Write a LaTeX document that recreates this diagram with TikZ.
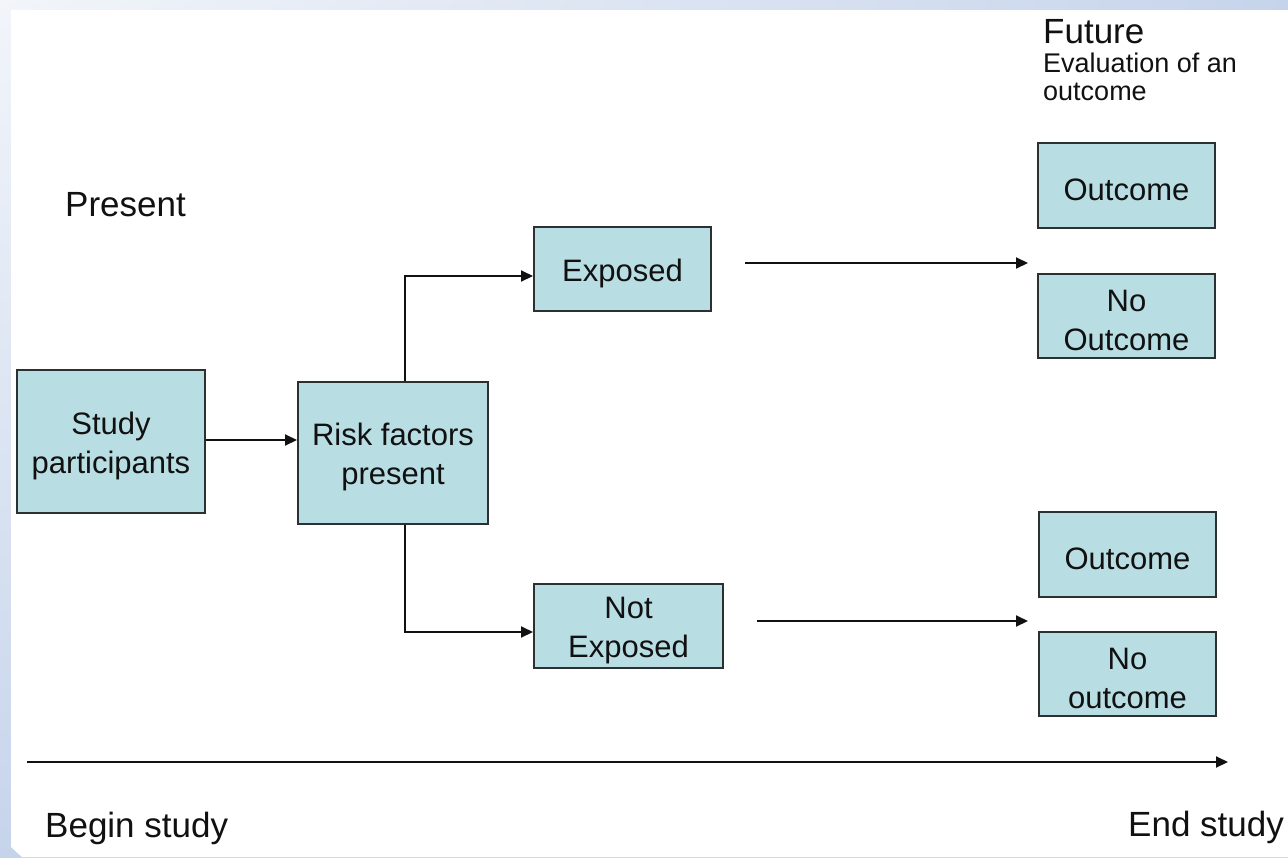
\documentclass[tikz,border=0pt]{standalone}
\usepackage{fontspec}
\setmainfont{Liberation Sans}
\usetikzlibrary{arrows.meta,shadings}
\definecolor{boxfill}{HTML}{B8DDE3}
\definecolor{boxline}{HTML}{2B3032}
\definecolor{bgA}{HTML}{F2F5FA}
\definecolor{bgB}{HTML}{C6D4EB}
\definecolor{ink}{HTML}{111111}
\newcommand\boxstrut{\rule{0pt}{31pt}}
\tikzset{
  stepbox/.style={draw=boxline, fill=boxfill, line width=2pt, inner sep=0pt,
    align=center, text=ink, font=\fontsize{31}{39}\selectfont},
  arr/.style={draw=ink, line width=2pt, -{Triangle[length=12pt,width=11pt]}},
  lbl/.style={inner sep=0pt, text=ink, font=\fontsize{35}{40}\selectfont},
  sublbl/.style={inner sep=0pt, text=ink, font=\fontsize{27}{28}\selectfont},
}
\begin{document}
\begin{tikzpicture}[x=1pt, y=-1pt]
\useasboundingbox (0,0) rectangle (1288,857);
% background
\shade[upper left=bgA, upper right=bgB, lower left=bgB, lower right=bgB] (0,0) rectangle (1288,857);
\fill[white] (11,10) -- (1288,10) -- (1288,857) -- (22,857) -- (11,847) -- cycle;

% boxes
\node[stepbox, minimum width=188pt, minimum height=143pt] (study) at (111,441.5) {\boxstrut Study\\participants};
\node[stepbox, minimum width=190pt, minimum height=142pt] (risk) at (393,453) {\boxstrut Risk factors\\present};
\node[stepbox, minimum width=177pt, minimum height=84pt] (exposed) at (622.5,269) {\boxstrut Exposed};
\node[stepbox, minimum width=189pt, minimum height=84pt] (notexp) at (628.5,626) {\boxstrut Not\\Exposed};
\node[stepbox, minimum width=177pt, minimum height=85pt] (out1) at (1126.5,185.5) {\boxstrut Outcome};
\node[stepbox, minimum width=177pt, minimum height=84pt] (noout1) at (1126.5,316) {\boxstrut No\\Outcome};
\node[stepbox, minimum width=177pt, minimum height=85pt] (out2) at (1127.5,554.5) {\boxstrut Outcome};
\node[stepbox, minimum width=177pt, minimum height=84pt] (noout2) at (1127.5,674) {\boxstrut No\\outcome};

% labels
\node[lbl, anchor=base west] (present) at (65,216) {Present};
\node[lbl, anchor=base west] (future) at (1043,43) {Future};
\node[sublbl, anchor=base west] (eval1) at (1043,72) {Evaluation of an};
\node[sublbl, anchor=base west] (eval2) at (1043,100) {outcome};
\node[lbl, anchor=base west] (begin) at (45,837) {Begin study};
\node[lbl, anchor=base west] (end) at (1128,836) {End study};

% connectors
\draw[arr] (study.east |- 0,440) -- (risk.west |- 0,440);
\draw[arr] ([xshift=12pt]risk.north) |- ([yshift=-7pt]exposed.west);
\draw[arr] ([xshift=12pt]risk.south) |- ([yshift=-6pt]notexp.west);

\coordinate (a1s) at (745,263);
\coordinate (a1e) at (1028,263);
\coordinate (a2s) at (757,621);
\coordinate (a2e) at (1028,621);
\coordinate (axs) at (27,762);
\coordinate (axe) at (1228,762);
\draw[arr] (a1s) -- (a1e);
\draw[arr] (a2s) -- (a2e);
\draw[arr] (axs) -- (axe);
\end{tikzpicture}
\end{document}
